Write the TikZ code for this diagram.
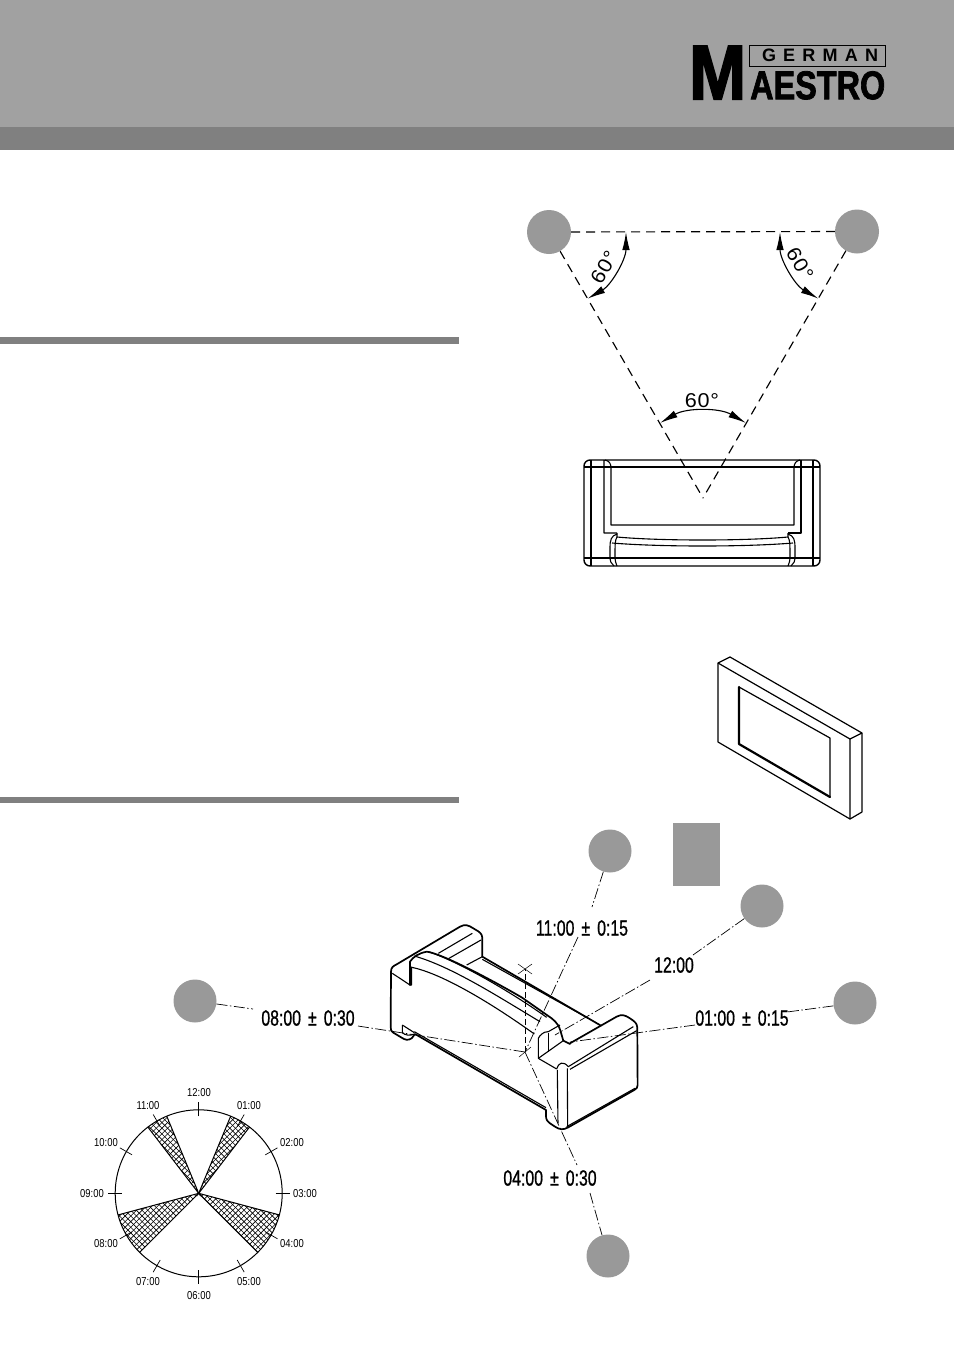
\documentclass[tikz,border=0pt]{standalone}
\usepackage{fontspec}
\usepackage{graphicx}
\usetikzlibrary{arrows.meta}
\setmainfont{Liberation Sans}
\newfontfamily\logof[UprightFont=* Bold,FakeBold=2]{Liberation Sans}
\newfontfamily\logom[UprightFont=* Bold,FakeBold=2.5]{Liberation Sans}
\newfontfamily\germanf[UprightFont=* Bold,LetterSpace=40]{Liberation Sans}
\newfontfamily\clockf[FakeStretch=0.82]{Liberation Sans}
\newfontfamily\timef[FakeStretch=0.72,FakeBold=0.8,WordSpace=1.6]{Liberation Sans}
\newfontfamily\anglef[FakeStretch=1.08,LetterSpace=4]{Liberation Sans}
\definecolor{headgray}{HTML}{A1A1A1}
\definecolor{bandgray}{HTML}{808080}
\definecolor{spkgray}{HTML}{999999}
\tikzset{
 spk/.style={circle,fill=spkgray,inner sep=0pt,minimum size=#1},
 dashline/.style={line width=1.15pt,dash pattern=on 9pt off 6pt,draw=black},
 dim/.style={line width=1.1pt,{Latex[length=18pt,width=7.5pt]}-{Latex[length=18pt,width=7.5pt]}},
 angle/.style={font=\anglef\fontsize{20}{20}\selectfont,inner sep=0pt},
 axis/.style={line width=.7pt,dash pattern=on 11pt off 2.5pt on 1.5pt off 2.5pt},
 timelabel/.style={font=\timef\fontsize{22}{22}\selectfont,inner sep=0pt},
 clocklabel/.style={font=\clockf\fontsize{11.5}{12}\selectfont,inner sep=0pt},
 edge/.style={line width=1.1pt,line join=round},
 heavy/.style={line width=1.7pt,line join=round,line cap=round},
}
\begin{document}
\begin{tikzpicture}[x=1pt,y=-1pt]
\useasboundingbox (0,0) rectangle (954,1350);
\fill[white] (0,0) rectangle (954,1350);
% header
\fill[headgray] (0,0) rectangle (954,127);
\fill[bandgray] (0,127) rectangle (954,150);
\fill[bandgray] (0,337) rectangle (459,344);
\fill[bandgray] (0,797) rectangle (459,803);
% logo
\node[inner sep=0pt,anchor=north west] (logoM) at (689,46) {\resizebox{57pt}{53pt}{\logom M}};
\node[draw=black,line width=.9pt,minimum width=136pt,minimum height=21pt,inner sep=0pt,anchor=north west] (logoBox) at (749,45) {};
\node[inner sep=0pt,font=\germanf\fontsize{18}{18}\selectfont] (logoG) at (820,55.5) {GERMAN};
\node[inner sep=0pt,anchor=north west] (logoA) at (750,71) {\resizebox{135pt}{28pt}{\logof AESTRO}};
% stereo triangle
\node[spk=44pt] (spL) at (549,232) {};
\node[spk=44pt] (spR) at (857,231.5) {};
\coordinate (apex) at (703,498);
\draw[dashline] (spL) -- (spR);
\draw[dashline] (spL) -- (apex);
\draw[dashline] (spR) -- (apex);
\draw[dim] (626,232) arc[start angle=0,end angle=60,radius=77];
\draw[dim] (780,232) arc[start angle=180,end angle=120,radius=77];
\draw[dim] (660,423) arc[start angle=240,end angle=300,radius=86];
\node[angle,rotate=60] (a1) at (604,267) {60°};
\node[angle,rotate=-60] (a2) at (800,264) {60°};
\node[angle] (a3) at (702,401) {60°};
% sofa, top view
\draw[edge,line width=1.4pt,rounded corners=6pt] (584,460) rectangle (820,566);
\draw[edge] (584,467) -- (820,467) (584,558) -- (820,558) (591,460) -- (591,566) (813,460) -- (813,566);
\draw[edge] (604,460) -- (604,533) -- (617,533) (605,460) .. controls (609,461) and (611,463) .. (611,468) -- (611,525) -- (794,525) -- (794,468) .. controls (794,463) and (796,461) .. (800,460);
\draw[edge] (801,460) -- (801,533) -- (788,533);
\draw[edge] (617,533) -- (617,537) .. controls (660,541) and (745,541) .. (788,537) -- (788,533);
\draw[edge] (612,543) .. controls (660,547) and (745,547) .. (793,543);
\draw[edge] (617,534) .. controls (611,536) and (610,540) .. (610,548) -- (610,556) .. controls (610,561) and (611,564) .. (614,566);
\draw[edge] (617,537) .. controls (615,540) and (615,545) .. (615,556) .. controls (615,561) and (616,564) .. (617,566);
\draw[edge] (788,534) .. controls (794,536) and (795,540) .. (795,548) -- (795,556) .. controls (795,561) and (794,564) .. (791,566);
\draw[edge] (788,537) .. controls (790,540) and (790,545) .. (790,556) .. controls (790,561) and (789,564) .. (788,566);
% television
\draw[edge,line width=1.2pt] (718,663) -- (730,657) -- (862,733) -- (862,812) -- (850,819) -- (718,742) -- cycle;
\draw[edge,line width=1.2pt] (718,663) -- (850,739) -- (862,733) (850,739) -- (850,819);
\draw[edge,line width=1.2pt] (739,687) -- (830,738) -- (830,797);
\draw[heavy,line width=2.2pt] (739,687) -- (739,744) -- (830,797);
% surround speakers
\node[fill=spkgray,minimum width=47pt,minimum height=63pt,inner sep=0pt,anchor=north west] (centre) at (673,823) {};
\node[spk=43pt] (s11) at (610,851) {};
\node[spk=43pt] (s12) at (762,906) {};
\node[spk=43pt] (s1) at (855,1003) {};
\node[spk=43pt] (s8) at (195,1001) {};
\node[spk=43pt] (s4) at (608,1256) {};
\coordinate (lp) at (525,1052);
% sofa, isometric
\begin{scope}[shift={(375,910)},x=.3333pt,y=-.3333pt]
\draw[heavy] (48,185) .. controls (48,172) and (55,168) .. (65,163) -- (255,50) .. controls (270,42) and (280,45) .. (295,55) -- (310,64) .. controls (320,72) and (322,75) .. (322,90) -- (322,140) -- (678,347);
\draw[edge] (322,148) -- (640,325);
\draw[heavy] (585,400) -- (725,320) .. controls (740,312) and (750,315) .. (765,325) -- (775,332) .. controls (785,340) and (787,345) .. (787,360) -- (788,525) .. controls (788,533) and (785,536) .. (778,540) -- (580,652) .. controls (565,660) and (555,660) .. (540,650) -- (525,640) .. controls (515,632) and (513,628) .. (513,615) -- (513,600) -- (120,372) -- (110,385) .. controls (100,392) and (90,390) .. (80,383) -- (55,368) .. controls (48,364) and (47,360) .. (47,350) -- (48,185);
\draw[edge] (780,535) -- (575,650);
\draw[edge] (118,365) -- (513,593);
\draw[edge] (52,190) -- (105,225) -- (110,225) -- (110,170);
\draw[heavy] (105,225) -- (105,155) .. controls (115,140) and (130,130) .. (155,125) .. controls (200,130) and (350,210) .. (440,262) -- (530,325) .. controls (550,342) and (553,350) .. (558,368) -- (565,392) -- (585,402);
\draw[edge] (110,172) .. controls (200,190) and (350,280) .. (478,372);
\draw[edge] (118,138) .. controls (230,170) and (370,260) .. (495,335);
\draw[edge] (160,125) .. controls (240,150) and (400,240) .. (515,322);
\draw[edge] (190,130) -- (292,70);
\draw[edge] (222,145) -- (318,90);
\draw[edge] (275,165) -- (322,140);
\draw[edge] (565,392) -- (490,445) -- (490,385) .. controls (495,375) and (505,365) .. (520,365) -- (555,345);
\draw[edge] (520,370) -- (520,425);
\draw[edge] (490,445) -- (545,477);
\draw[edge] (545,477) .. controls (550,458) and (565,452) .. (580,470) -- (775,350);
\draw[edge] (585,478) -- (785,362);
\draw[edge] (547,480) -- (549,640);
\draw[edge] (577,475) -- (578,650);
\draw[edge] (82,345) -- (82,368) .. controls (90,376) and (105,378) .. (118,372);
\draw[edge] (82,345) -- (118,368);
\end{scope}
% listening axes
\draw[axis] (s11) -- (592,907);
\draw[axis] (578,937) -- (lp);
\draw[axis] (s12) -- (693,955);
\draw[axis] (650,980) -- (555,1035);
\draw[axis] (s1) -- (787,1012);
\draw[axis] (695,1025) -- (570,1042);
\draw[axis] (s8) -- (253,1009);
\draw[axis] (358,1026) -- (lp);
\draw[axis] (lp) -- (577,1165);
\draw[axis] (590,1193) -- (s4);
\draw[line width=.8pt,dash pattern=on 6pt off 3pt] (lp) -- (525,969);
\draw[line width=.5pt] (518,964) -- (532,974) (532,964) -- (518,974) (519,1057) -- (531,1047);
\node[timelabel] (t11) at (582,928) {11:00 ± 0:15};
\node[timelabel] (t12) at (674,965) {12:00};
\node[timelabel] (t1) at (742,1018) {01:00 ± 0:15};
\node[timelabel] (t8) at (308,1018) {08:00 ± 0:30};
\node[timelabel] (t4) at (550,1178) {04:00 ± 0:30};
% clock diagram
\begin{scope}[shift={(198.7,1193.3)}]
\foreach \a/\b in {322.5/337.5,22.5/37.5,105/135,225/255}{
 \begin{scope}
 \clip (0,0) -- ({83.5*sin(\a)},{-83.5*cos(\a)}) arc[start angle=\a-90,end angle=\b-90,radius=83.5] -- cycle;
 \foreach \k in {-30,...,30}{
  \draw[line width=.6pt] (\k*5.66-120,-120) -- (\k*5.66+120,120);
  \draw[line width=.6pt] (\k*5.66+120,-120) -- (\k*5.66-120,120);
 }
 \end{scope}
 \draw[line width=1pt] ({83.5*sin(\a)},{-83.5*cos(\a)}) -- (0,0) -- ({83.5*sin(\b)},{-83.5*cos(\b)});
}
\draw[line width=1pt] (0,0) circle[radius=83.5];
\foreach \h in {0,...,11}{
 \draw[line width=.7pt] ({77*sin(30*\h)},{-77*cos(30*\h)}) -- ({91*sin(30*\h)},{-91*cos(30*\h)});
}
\end{scope}
\node[clocklabel] (c12) at (199,1093) {12:00};
\node[clocklabel] (c01) at (249,1106) {01:00};
\node[clocklabel] (c02) at (292,1143) {02:00};
\node[clocklabel] (c03) at (305,1194) {03:00};
\node[clocklabel] (c04) at (292,1244) {04:00};
\node[clocklabel] (c05) at (249,1282) {05:00};
\node[clocklabel] (c06) at (199,1296) {06:00};
\node[clocklabel] (c07) at (148,1282) {07:00};
\node[clocklabel] (c08) at (106,1244) {08:00};
\node[clocklabel] (c09) at (92,1194) {09:00};
\node[clocklabel] (c10) at (106,1143) {10:00};
\node[clocklabel] (c11) at (148,1106) {11:00};
\end{tikzpicture}
\end{document}
